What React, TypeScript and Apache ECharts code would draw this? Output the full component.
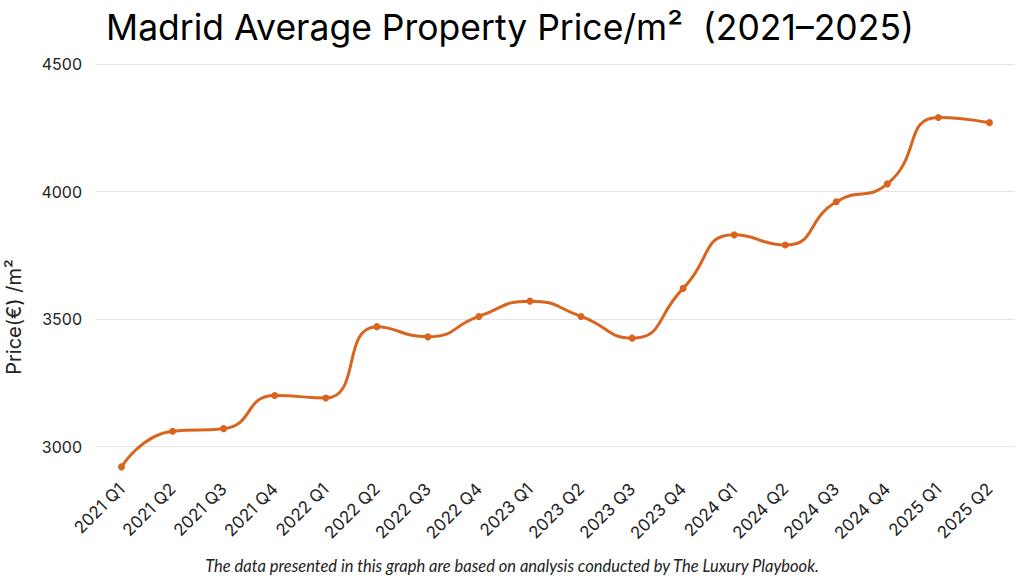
import React, { useEffect, useRef } from "react";
import * as echarts from "echarts";

const categories = [
  "2021 Q1", "2021 Q2", "2021 Q3", "2021 Q4",
  "2022 Q1", "2022 Q2", "2022 Q3", "2022 Q4",
  "2023 Q1", "2023 Q2", "2023 Q3", "2023 Q4",
  "2024 Q1", "2024 Q2", "2024 Q3", "2024 Q4",
  "2025 Q1", "2025 Q2",
];
const prices = [
  2920, 3060, 3070, 3200,
  3190, 3470, 3430, 3510,
  3570, 3510, 3425, 3620,
  3830, 3790, 3960, 4030,
  4290, 4270,
];
const yTickLabels = [3000, 3500, 4000, 4500];

const titleText = "Madrid Average Property Price/m²  (2021–2025)";
const yAxisTitle = "Price(€) /m²";
const footerText =
  "The data presented in this graph are based on analysis conducted by The Luxury Playbook.";

export default function App() {
  const ref = useRef<HTMLDivElement>(null);
  useEffect(() => {
    if (!ref.current) return;
    const chart = echarts.init(ref.current, null, { renderer: "svg" });
    chart.setOption({
      animation: false,
      backgroundColor: "#ffffff",
      grid: { left: 96, right: 9, top: 64, bottom: 104, containLabel: false },
      xAxis: {
        type: "category",
        data: categories,
        boundaryGap: true,
        axisLine: { show: false },
        axisTick: { show: false },
        splitLine: { show: false },
        axisLabel: {
          interval: 0,
          rotate: 45,
          margin: 14,
          fontSize: 17,
          color: "#222222",
          fontFamily: "Inter",
          padding: [0, 0, 0, 0],
        },
      },
      yAxis: {
        type: "value",
        min: 2900,
        max: 4500,
        interval: 100,
        axisLine: { show: false },
        axisTick: { show: false },
        axisLabel: {
          margin: 14,
          fontSize: 16,
          color: "#222222",
          fontFamily: "Inter",
          formatter: (v: number) => (yTickLabels.includes(v) ? String(v) : ""),
        },
        splitLine: {
          show: true,
          lineStyle: {
            width: 1,
            color: ["rgba(0,0,0,0)", "#e6e6e6", "rgba(0,0,0,0)", "rgba(0,0,0,0)", "rgba(0,0,0,0)"],
          },
        },
      },
      series: [
        {
          type: "line",
          data: prices,
          smooth: 0.55,
          symbol: "circle",
          symbolSize: 7,
          itemStyle: { color: "#d9641e" },
          lineStyle: { color: "#d9641e", width: 3 },
        },
      ],
      graphic: [
        {
          type: "text",
          x: 510,
          y: 27,
          style: {
            text: titleText,
            fill: "#000000",
            fontSize: 35.5,
            fontFamily: "Inter",
            textAlign: "center",
            textVerticalAlign: "middle",
          },
        },
        {
          type: "text",
          x: 14,
          y: 317,
          rotation: Math.PI / 2,
          style: {
            text: yAxisTitle,
            fill: "#222222",
            fontSize: 20,
            fontFamily: "Inter",
            textAlign: "center",
            textVerticalAlign: "middle",
          },
        },
        {
          type: "text",
          x: 512,
          y: 566,
          style: {
            text: footerText,
            fill: "#222222",
            fontSize: 16.5,
            fontStyle: "italic",
            fontFamily: "Lato",
            textAlign: "center",
            textVerticalAlign: "middle",
          },
        },
      ],
    });
    return () => chart.dispose();
  }, []);
  return (
    <div
      ref={ref}
      style={{ position: "fixed", left: 0, top: 0, width: 1024, height: 576 }}
    />
  );
}
